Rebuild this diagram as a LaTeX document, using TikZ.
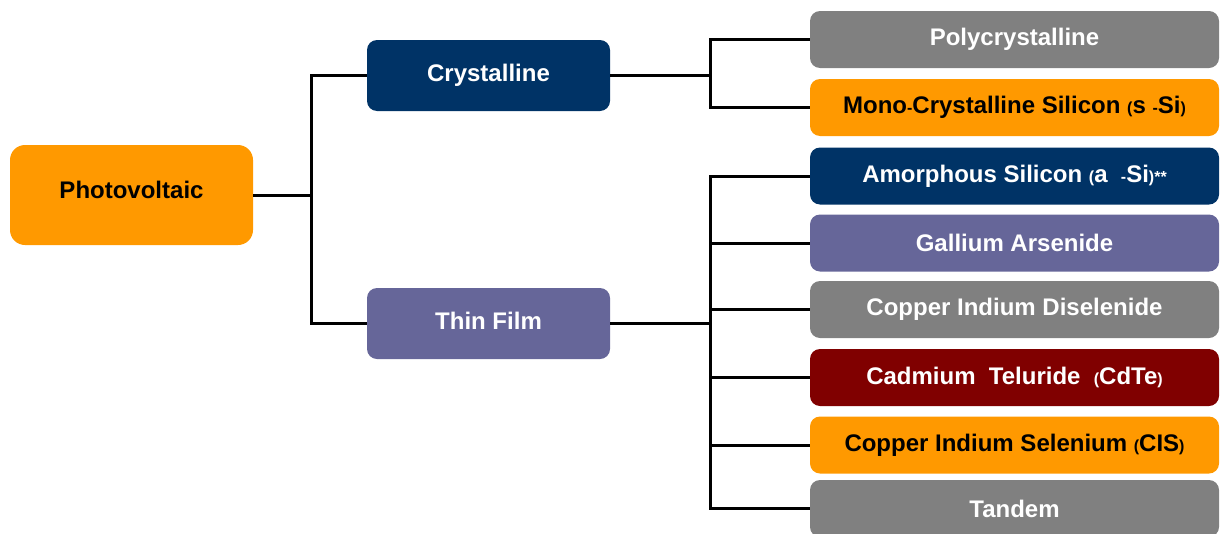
\documentclass[tikz,border=0pt]{standalone}
\usepackage{fontspec}
\setmainfont{Liberation Sans}
\definecolor{cOrange}{HTML}{FF9900}
\definecolor{cNavy}{HTML}{003366}
\definecolor{cPurple}{HTML}{666699}
\definecolor{cGray}{HTML}{808080}
\definecolor{cRed}{HTML}{800000}
\newcommand{\sm}[1]{{\fontsize{16}{16}\selectfont #1}}
\begin{document}
\begin{tikzpicture}[x=1pt,y=-1pt,
  box/.style={rounded corners=10pt, inner sep=0pt, font=\fontsize{24}{28}\selectfont\bfseries, text=white},
  leaf/.style={box, minimum width=409pt, minimum height=57pt},
  mid/.style={box, minimum width=243pt, minimum height=71pt},
  conn/.style={line width=3pt, black}]
\useasboundingbox (0,0) rectangle (1220,533);
\node[box, fill=cOrange, text=black, rounded corners=15pt, minimum width=243pt, minimum height=100pt, text depth=10pt] (pv) at (131.5,195) {Photovoltaic};
\node[mid, fill=cNavy] (cr) at (488.5,75.5) {Crystalline};
\node[mid, fill=cPurple, text depth=6pt] (tf) at (488.5,323.5) {Thin Film\hspace{6pt}};
\node[leaf, fill=cGray] (poly) at (1014.5,39.5) {Polycrystalline};
\node[leaf, fill=cOrange, text=black] (mono) at (1014.5,107.5) {Mono\sm{-}Crystalline Silicon \sm{(}s \sm{-}Si\sm{)}};
\node[leaf, fill=cNavy] (amo) at (1014.5,176) {Amorphous Silicon \sm{(}a \ \sm{-}Si\sm{)**}};
\node[leaf, fill=cPurple] (gaas) at (1014.5,243) {Gallium Arsenide};
\node[leaf, fill=cGray] (cid) at (1014.5,309.5) {Copper Indium Diselenide};
\node[leaf, fill=cRed] (cdte) at (1014.5,377.5) {Cadmium \ Teluride \ \sm{(}CdTe\sm{)}};
\node[leaf, fill=cOrange, text=black] (cis) at (1014.5,445) {Copper Indium Selenium \sm{(}CIS\sm{)}};
\node[leaf, fill=cGray] (tan) at (1014.5,508.5) {Tandem};
\coordinate (j1) at (311,195);
\coordinate (j2) at (710,75.5);
\coordinate (j3) at (710,323.5);
\draw[conn] (pv.east) -- (j1);
\draw[conn] (j1) |- (cr.west);
\draw[conn] (j1) |- (tf.west);
\draw[conn] (cr.east) -- (j2);
\draw[conn] (j2) |- (poly.west);
\draw[conn] (j2) |- (mono.west);
\draw[conn] (tf.east) -- (j3);
\foreach \n in {amo,gaas,cid,cdte,cis,tan} \draw[conn] (j3) |- (\n.west);
\end{tikzpicture}
\end{document}
